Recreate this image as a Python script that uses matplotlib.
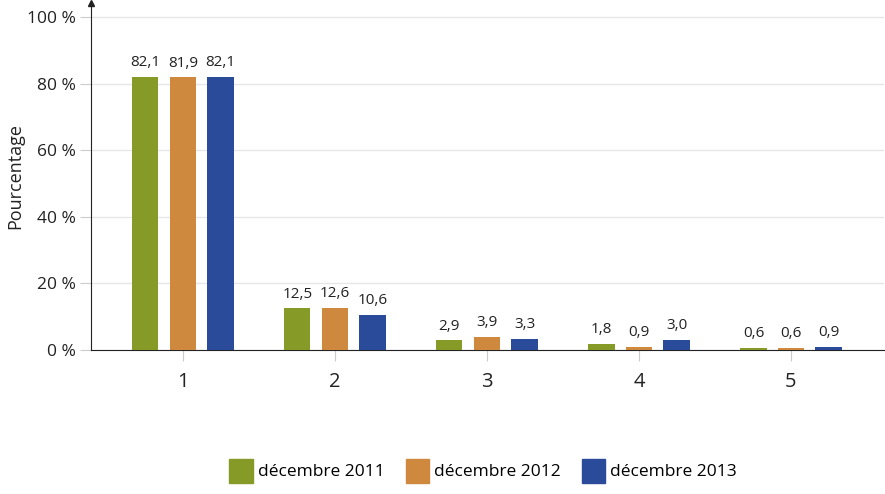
import numpy as np
import matplotlib.pyplot as plt
from matplotlib.patches import Patch

categories = ['1', '2', '3', '4', '5']
series = ['décembre 2011', 'décembre 2012', 'décembre 2013']
val_2011 = [82.1, 12.5, 2.9, 1.8, 0.6]
val_2012 = [81.9, 12.6, 3.9, 0.9, 0.6]
val_2013 = [82.1, 10.6, 3.3, 3.0, 0.9]
colors = ['#869a27', '#ce893f', '#2a4a9a']
yticks = [0, 20, 40, 60, 80, 100]

plt.rcParams['font.family'] = ['Open Sans', 'DejaVu Sans']

fig = plt.figure(figsize=(8.85, 4.94), dpi=100)
ax = fig.add_axes([0.1028, 0.2915, 0.8961, 0.7025])

x = np.arange(1, len(categories) + 1)
offset = 0.247
width = 0.172
for i, vals in enumerate([val_2011, val_2012, val_2013]):
    pos = x + (i - 1) * offset
    ax.bar(pos, vals, width=width, color=colors[i], zorder=3)
    for p, v in zip(pos, vals):
        ax.text(p, v + 2.0, f'{v:.1f}'.replace('.', ','), ha='center', va='bottom',
                fontsize=11, color='#222222')

ax.set_xlim(0.395, 5.612)
ax.set_ylim(0, 104.2)
ax.set_yticks(yticks)
ax.set_yticklabels([f'{t} %' for t in yticks], fontsize=12.5, color='#222222')
ax.set_xticks(x)
ax.set_xticklabels(categories, fontsize=14.5, color='#222222')
ax.tick_params(axis='y', length=8, color='#cccccc', pad=3)
ax.tick_params(axis='x', length=8, color='#cccccc', pad=8)
ax.grid(axis='y', color='#e6e6e6', linewidth=1, zorder=0)
ax.set_axisbelow(True)
for s in ['top', 'right']:
    ax.spines[s].set_visible(False)
ax.spines['left'].set_color('#222222')
ax.spines['bottom'].set_color('#222222')
ax.plot(0, 1, '^', color='#222222', markersize=4, transform=ax.transAxes, clip_on=False)
ax.set_ylabel('Pourcentage', fontsize=13, color='#222222')
ax.yaxis.set_label_coords(-0.084, 0.5)

handles = [Patch(color=c) for c in colors]
fig.legend(handles, series, loc='center', bbox_to_anchor=(0.546, 0.047), ncol=3,
           frameon=False, fontsize=12.5, handlelength=1.35, handleheight=1.75,
           handletextpad=0.3, columnspacing=1.2)

fig.savefig('out.png', dpi=100)
